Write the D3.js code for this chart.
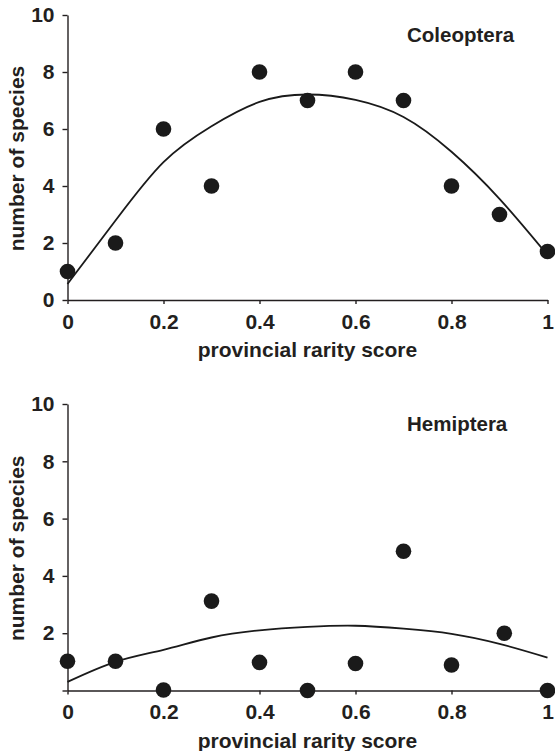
<!DOCTYPE html>
<html>
<head>
<meta charset="utf-8">
<script src="https://cdn.jsdelivr.net/npm/d3@7"></script>
<style>
  body { margin: 0; background: #fff; }
  svg text { font-family: "Liberation Sans", Arial, sans-serif; font-weight: bold; fill: #231f20; }
</style>
</head>
<body>
<svg id="chart" width="555" height="751"></svg>
<script>
// rarity score classes (x)
var scores = [0, 0.1, 0.2, 0.3, 0.4, 0.5, 0.6, 0.7, 0.8, 0.9, 1];

var coleopteraCounts = [1, 2, 6, 4, 8, 7, 8, 7, 4, 3, 1.7];
var coleopteraTrend = [0.56, 2.79, 4.84, 6.1, 6.95, 7.21, 7.02, 6.42, 5.2, 3.55, 1.58];

// Hemiptera
var hemipteraScores = [0, 0.1, 0.2, 0.3, 0.4, 0.5, 0.6, 0.7, 0.8, 0.91, 1];
var hemipteraCounts = [1.02, 1.02, 0.02, 3.12, 0.98, 0, 0.94, 4.86, 0.89, 2.0, 0];
var hemipteraTrend = [0.3, 1.0, 1.42, 1.85, 2.1, 2.22, 2.26, 2.16, 1.98, 1.63, 1.15];

var xTicks = [0, 0.2, 0.4, 0.6, 0.8, 1];
var yTicks = [0, 2, 4, 6, 8, 10];

var svg = d3.select("#chart");

function drawPanel(opt) {
  var x = d3.scaleLinear().domain([0, 1]).range([67.5, 547.5]);
  var y = d3.scaleLinear().domain([0, 10]).range([opt.bottom, opt.top]);

  var g = svg.append("g");

  // x axis
  var xa = g.append("g")
    .attr("transform", "translate(0," + opt.bottom + ")")
    .call(d3.axisBottom(x).tickValues(xTicks).tickSize(4).tickSizeOuter(0).tickPadding(10)
      .tickFormat(function (d) { return String(+d.toFixed(1)); }));

  // y axis
  var ya = g.append("g")
    .attr("transform", "translate(67.5,0)")
    .call(d3.axisLeft(y).tickValues(yTicks).tickSize(5).tickSizeOuter(0).tickPadding(8)
      .tickFormat(function (d) { return (d === 0 && !opt.zeroLabel) ? "" : d; }));

  [xa, ya].forEach(function (a) {
    a.selectAll("path, line").attr("stroke", "#231f20").attr("stroke-width", 1.4);
    a.selectAll("text").style("font-size", "21px").attr("fill", "#231f20");
  });

  // trend curve
  var line = d3.line()
    .x(function (d, i) { return x(scores[i]); })
    .y(function (d) { return y(d); })
    .curve(d3.curveNatural);
  g.append("path")
    .datum(opt.trend)
    .attr("d", line)
    .attr("fill", "none")
    .attr("stroke", "#1a1a1a")
    .attr("stroke-width", 1.8);

  // points
  g.selectAll("circle.pt")
    .data(opt.counts)
    .enter().append("circle")
    .attr("class", "pt")
    .attr("cx", function (d, i) { return x(opt.xs[i]); })
    .attr("cy", function (d) { return y(d); })
    .attr("r", 7.8)
    .attr("fill", "#1a1a1a");

  // labels
  g.append("text")
    .attr("x", 407)
    .attr("y", opt.top + 27)
    .style("font-size", "20.5px")
    .text(opt.name);

  g.append("text")
    .attr("x", 307.5)
    .attr("y", opt.bottom + 57)
    .attr("text-anchor", "middle")
    .style("font-size", "21px")
    .text("provincial rarity score");

  g.append("text")
    .attr("transform", "translate(24," + ((opt.top + opt.bottom) / 2 + 1) + ") rotate(-90)")
    .attr("text-anchor", "middle")
    .style("font-size", "21px")
    .text("number of species");
}

drawPanel({ name: "Coleoptera", top: 15, bottom: 300, xs: scores, counts: coleopteraCounts, trend: coleopteraTrend, zeroLabel: true });
drawPanel({ name: "Hemiptera", top: 404, bottom: 690.5, xs: hemipteraScores, counts: hemipteraCounts, trend: hemipteraTrend, zeroLabel: false });
</script>
</body>
</html>
